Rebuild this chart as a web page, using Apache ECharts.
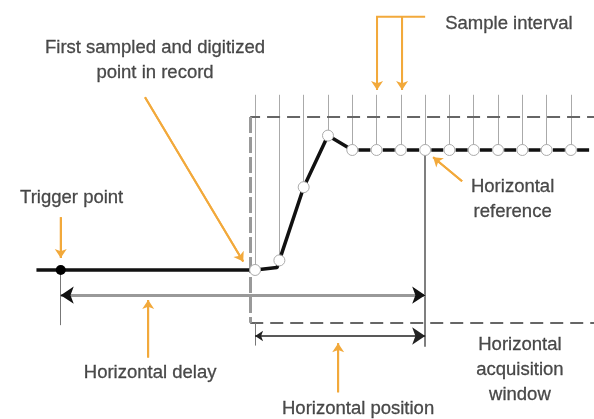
<!DOCTYPE html>
<html><head><meta charset="utf-8">
<script src="https://cdn.jsdelivr.net/npm/echarts@6/dist/echarts.min.js"></script>
<style>html,body{margin:0;padding:0;background:#fff}#c{width:594px;height:419px}</style>
</head><body><div id="c"></div>
<script>
// Diagram coordinates: x in sample intervals (sample 0 = first sample), y in amplitude (baseline 0, settled 1)
const sampleX = [0,1,2,3,4,5,6,7,8,9,10,11,12,13,14];
const sampleY = [0,0.08,0.69,1.12,1.0,1,1,1,1,1,1,1,1,1,1];
const preTrigger = [[-9,0],[0,0]];
const edgeKnee = [0.9,0.02];
const triggerPoint = [-8,0];
const settleIndex = 4;
const acqWindow = {left:-0.2, right:14.2, top:1.275, bottom:-0.44};
const sampleTickTop = 1.46;
const horizRef = {x:7, top:1.0, bottom:-0.64};
const delayArrow = {from:-8, to:7, y:-0.21, tickBottom:-0.46};
const positionArrow = {from:0, to:7, y:-0.55, tickTop:-0.44, tickBottom:-0.63};
// each callout ends at the point its arrowhead touches
const callouts = [
  [[-8,0.44],[-8,0.1]],
  [[-4.53,1.44],[-0.49,0.07]],
  [[7.0,2.11],[5.02,2.11],[5.02,1.5]],
  [[6.05,2.11],[6.05,1.5]],
  [[8.52,0.74],[7.33,0.94]],
  [[-4.4,-0.73],[-4.4,-0.25]],
  [[3.42,-1.02],[3.42,-0.61]]
];
const labels = [
  {pos:[-4.12,1.75], text:'First sampled and digitized\npoint in record'},
  {pos:[-7.55,0.6], text:'Trigger point'},
  {pos:[10.45,2.05], text:'Sample interval'},
  {pos:[10.6,0.585], text:'Horizontal\nreference'},
  {pos:[-4.32,-0.86], text:'Horizontal delay'},
  {pos:[4.24,-1.16], text:'Horizontal position'},
  {pos:[10.9,-0.833], text:'Horizontal\nacquisition\nwindow'}
];

const chart = echarts.init(document.getElementById('c'), null, {renderer:'canvas'});
const orange = '#F2A93B';
const series = [];

// sample tick lines
series.push({type:'lines', coordinateSystem:'cartesian2d', silent:true, z:1,
  lineStyle:{color:'#aaa', width:1, opacity:1},
  data: sampleX.map((x,i)=>({coords:[[x,sampleTickTop],[x,sampleY[i]]]}))});

// acquisition window (dashed)
series.push({type:'lines', coordinateSystem:'cartesian2d', silent:true, z:2,
  lineStyle:{color:'#666', width:2, type:[13,7], opacity:1},
  data:[{coords:[[acqWindow.right,acqWindow.top],[acqWindow.left,acqWindow.top]]},
        {coords:[[acqWindow.left,acqWindow.bottom],[acqWindow.right,acqWindow.bottom]]}]});
series.push({type:'lines', coordinateSystem:'cartesian2d', silent:true, z:2,
  lineStyle:{color:'#999', width:3, type:[16,4], opacity:1},
  data:[{coords:[[acqWindow.left,acqWindow.top],[acqWindow.left,acqWindow.bottom]]}]});

// horizontal reference line
series.push({type:'lines', coordinateSystem:'cartesian2d', silent:true, z:2,
  lineStyle:{color:'#555', width:1.5, opacity:1},
  data:[{coords:[[horizRef.x,horizRef.top],[horizRef.x,horizRef.bottom]]}]});

// delay arrow (gray shaft) + black heads + ticks
series.push({type:'lines', coordinateSystem:'cartesian2d', silent:true, z:2,
  lineStyle:{color:'#999', width:3, opacity:1},
  data:[{coords:[[delayArrow.from,delayArrow.y],[delayArrow.to,delayArrow.y]]}]});
series.push({type:'lines', coordinateSystem:'cartesian2d', silent:true, z:3,
  symbol:['none','arrow'], symbolSize:[8,13],
  lineStyle:{color:'#111', width:1, opacity:1},
  data:[{coords:[[delayArrow.from+0.3,delayArrow.y],[delayArrow.from,delayArrow.y]]},
        {coords:[[delayArrow.to-0.3,delayArrow.y],[delayArrow.to,delayArrow.y]]}]});
series.push({type:'lines', coordinateSystem:'cartesian2d', silent:true, z:2,
  lineStyle:{color:'#777', width:1, opacity:1},
  data:[{coords:[[delayArrow.from,0],[delayArrow.from,delayArrow.tickBottom]]},
        {coords:[[positionArrow.from,positionArrow.tickTop],[positionArrow.from,positionArrow.tickBottom]]}]});

// position arrow
series.push({type:'lines', coordinateSystem:'cartesian2d', silent:true, z:3,
  symbol:['arrow','arrow'], symbolSize:[8,13],
  lineStyle:{color:'#222', width:1.5, opacity:1},
  data:[{coords:[[positionArrow.from,positionArrow.y],[positionArrow.to,positionArrow.y]]}]});

// orange callouts (shafts) + arrowheads on last segment
series.push({type:'lines', coordinateSystem:'cartesian2d', silent:true, polyline:true, z:4,
  lineStyle:{color:orange, width:2, opacity:1},
  data: callouts.map(c=>({coords:c}))});
series.push({type:'lines', coordinateSystem:'cartesian2d', silent:true, z:4,
  symbol:['none','arrow'], symbolSize:[7,9],
  lineStyle:{color:orange, width:2, opacity:1},
  data: callouts.map(c=>({coords:[c[c.length-2],c[c.length-1]]}))});

// waveform: pre-trigger + rising edge (solid)
const solidPart = preTrigger.concat([edgeKnee], sampleX.slice(1,settleIndex+1).map((x,i)=>[x,sampleY[i+1]]));
series.push({type:'line', data:solidPart, symbol:'none', silent:true, z:5,
  lineStyle:{color:'#111', width:3.5}});
// settled part (dashed)
series.push({type:'line', data:sampleX.slice(settleIndex).map((x,i)=>[x,sampleY[i+settleIndex]]),
  symbol:'none', silent:true, z:5,
  lineStyle:{color:'#111', width:3.5, type:[12,12.3], dashOffset:18.15}});

// sample points
series.push({type:'scatter', data:sampleX.map((x,i)=>[x,sampleY[i]]), symbolSize:11, silent:true, z:6,
  itemStyle:{color:'#fff', borderColor:'#aaa', borderWidth:1, opacity:1}});
// trigger point
series.push({type:'scatter', data:[triggerPoint], symbolSize:10, silent:true, z:6,
  itemStyle:{color:'#000', opacity:1}});

// labels
series.push({type:'scatter', symbolSize:0, silent:true, z:7,
  data: labels.map(l=>({value:l.pos, name:l.text})),
  label:{show:true, position:'inside', formatter:'{b}', color:'#1e1e1e',
    textBorderColor:'#1e1e1e', textBorderWidth:0.3,
    fontFamily:'Liberation Sans, Arial, sans-serif', fontSize:18.5, lineHeight:25, align:'center', verticalAlign:'middle'}});

chart.setOption({
  animation:false,
  grid:{left:0,right:0,top:0,bottom:0},
  xAxis:{type:'value', min:-10.5, max:13.95, show:false},
  yAxis:{type:'value', min:-1.242, max:2.25, show:false},
  series
});
</script></body></html>
